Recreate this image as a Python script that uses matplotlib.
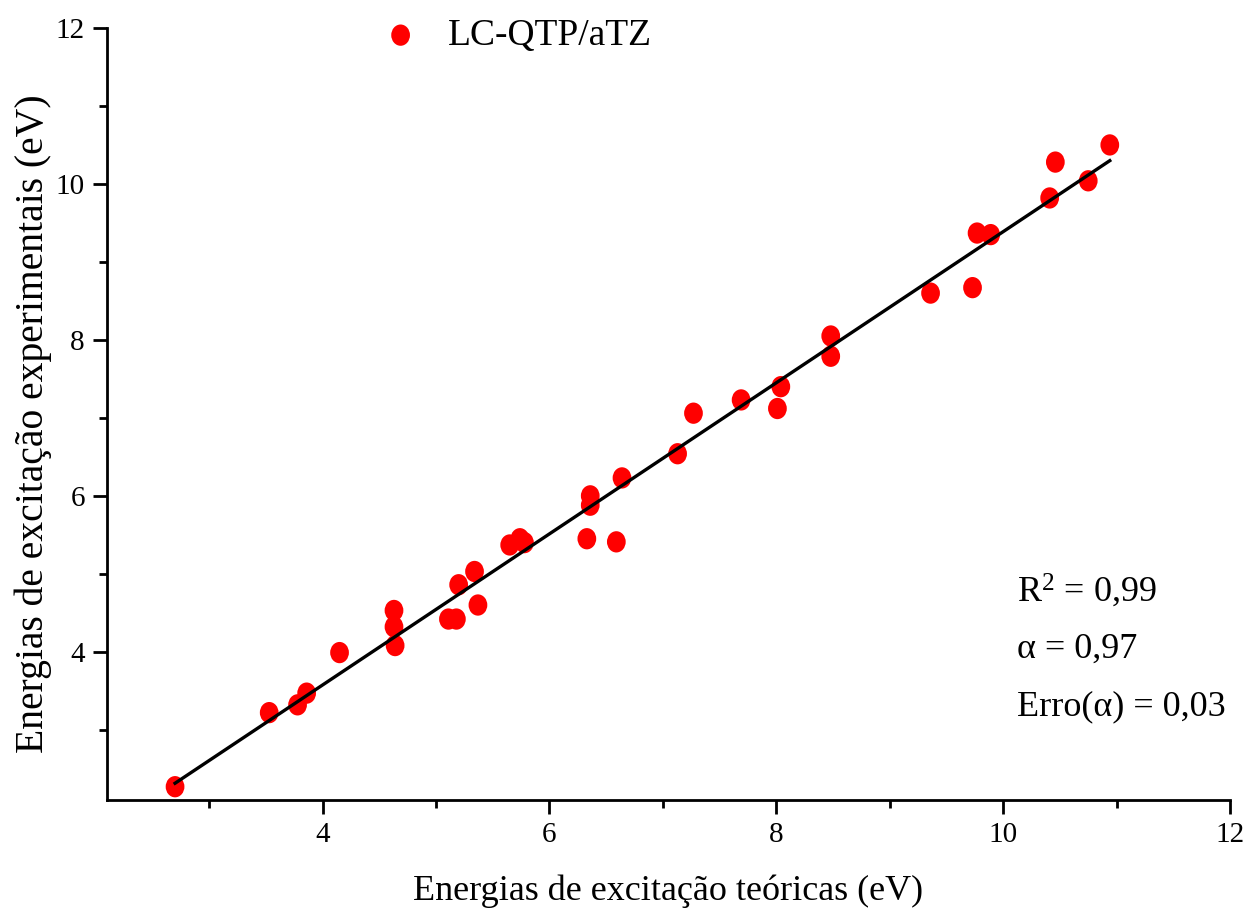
import numpy as np
import matplotlib
matplotlib.use("Agg")
import matplotlib.pyplot as plt
from matplotlib.ticker import MultipleLocator
from matplotlib.path import Path
from matplotlib.transforms import Affine2D

plt.rcParams["font.family"] = ["Liberation Serif", "DejaVu Serif"]
plt.rcParams["mathtext.fontset"] = "custom"
plt.rcParams["mathtext.rm"] = "Liberation Serif"
plt.rcParams["mathtext.it"] = "Liberation Serif:italic"

# energias teoricas (x) e experimentais (y), eV
e_teo = [2.70, 3.53, 3.78, 3.86, 4.15, 4.63, 4.63, 4.64, 5.11, 5.18,
         5.20, 5.34, 5.37, 5.65, 5.74, 5.78, 6.33, 6.36, 6.36, 6.59,
         6.64, 7.13, 7.27, 7.69, 8.01, 8.04, 8.48, 8.48, 9.36, 9.73,
         9.77, 9.89, 10.41, 10.46, 10.75, 10.94]
e_exp = [2.27, 3.22, 3.32, 3.47, 3.99, 4.53, 4.32, 4.08, 4.42, 4.42,
         4.86, 5.03, 4.60, 5.37, 5.45, 5.40, 5.45, 6.00, 5.88, 5.41,
         6.23, 6.54, 7.06, 7.23, 7.12, 7.40, 8.05, 7.79, 8.60, 8.67,
         9.37, 9.35, 9.82, 10.28, 10.04, 10.50]
stats = ["R$^{2}$ = 0,99", "α = 0,97", "Erro(α) = 0,03"]

x = np.array(e_teo)
y = np.array(e_exp)
a, b = np.polyfit(x, y, 1)
xf = np.array([x.min(), x.max()])

# slightly tall ellipse, like the original markers
ell = Affine2D().scale(0.88, 1.0).transform_path(Path.unit_circle())

fig = plt.figure(figsize=(12.47, 9.23), dpi=100)
ax = fig.add_axes([0.0858, 0.1333, 0.9006, 0.8364])

ax.scatter(x, y, s=235, marker=ell, color="#ff0000", edgecolors="none",
           zorder=3, label="LC-QTP/aTZ")
ax.plot(xf, a * xf + b, color="black", lw=2.4, zorder=4)

ax.set_xlim(2.1, 12)
ax.set_ylim(2.1, 12)
ax.set_xticks([4, 6, 8, 10, 12])
ax.set_yticks([4, 6, 8, 10, 12])
ax.xaxis.set_minor_locator(MultipleLocator(1))
ax.yaxis.set_minor_locator(MultipleLocator(1))

for s in ["top", "right"]:
    ax.spines[s].set_visible(False)
for s in ["left", "bottom"]:
    ax.spines[s].set_linewidth(2)

ax.tick_params(which="major", direction="out", length=10, width=2,
               labelsize=21, pad=6)
ax.tick_params(which="minor", direction="out", length=6, width=2)

ax.set_xlabel("Energias de excitação teóricas (eV)", fontsize=26)
ax.set_ylabel("Energias de excitação experimentais (eV)", fontsize=28.5)
ax.xaxis.set_label_coords(0.5, -0.097)
ax.yaxis.set_label_coords(-0.049, 0.488)

ax.legend(loc="upper left", bbox_to_anchor=(0.198, 1.056), frameon=False,
          fontsize=27, markerscale=1, handletextpad=0.25)

for i, t in enumerate(stats):
    ax.text(0.81, [0.2565, 0.184, 0.110][i], t, transform=ax.transAxes,
            fontsize=26, va="baseline", ha="left")

fig.savefig("out.png", dpi=100)
